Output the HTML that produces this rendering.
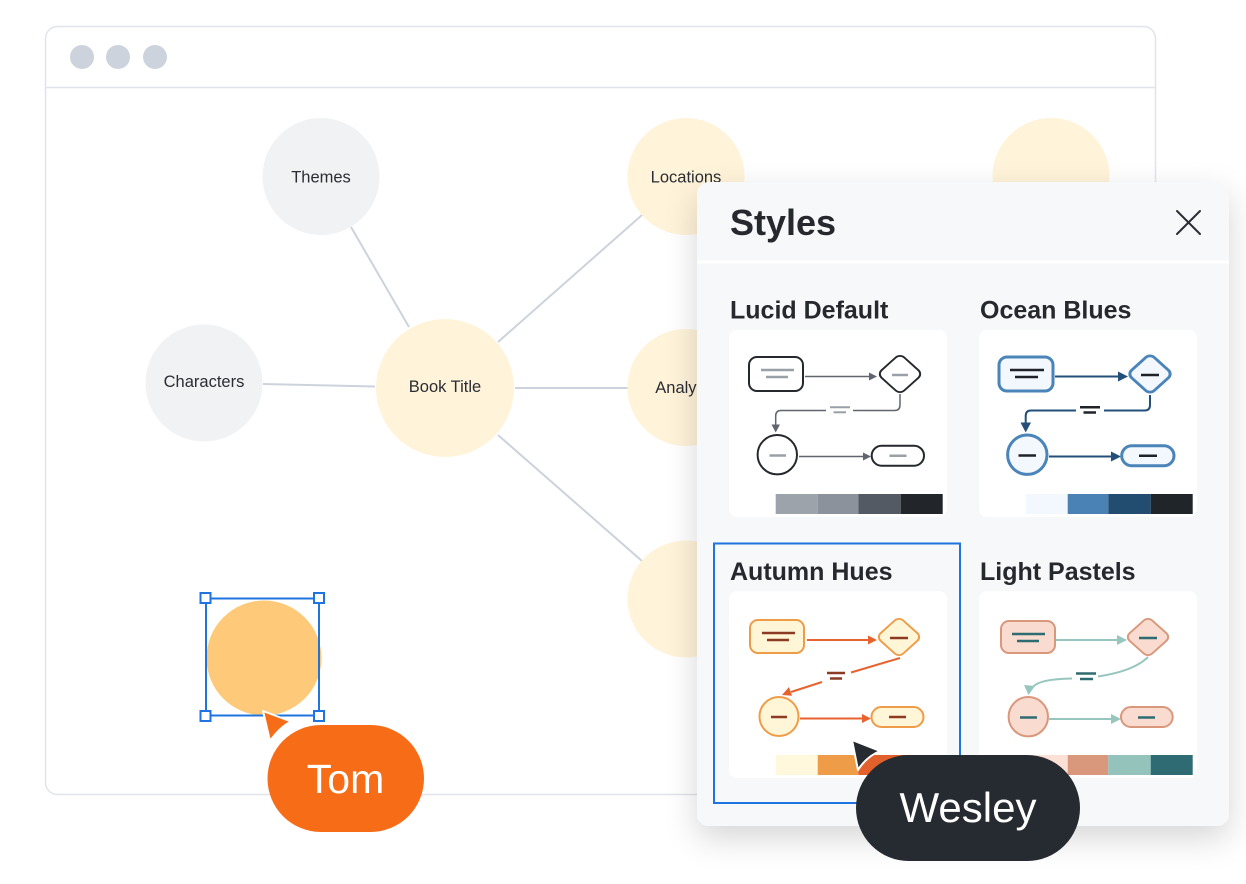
<!DOCTYPE html>
<html><head><meta charset="utf-8"><style>
html,body{margin:0;padding:0;background:#fff;}
body{width:1246px;height:884px;overflow:hidden;}
svg{display:block;}
text{font-family:"Liberation Sans",sans-serif;}
</style></head><body>
<svg width="1246" height="884" viewBox="0 0 1246 884" xmlns="http://www.w3.org/2000/svg">
<defs>
<filter id="sh" x="-20%" y="-20%" width="140%" height="140%">
<feDropShadow dx="0" dy="12" stdDeviation="16" flood-color="#000" flood-opacity="0.16"/>
</filter>
</defs>

<!-- window frame -->
<rect x="45.5" y="26.5" width="1110" height="768" rx="12" fill="#fff" stroke="#e1e4ea" stroke-width="1.5"/>
<line x1="46" y1="87.5" x2="1155" y2="87.5" stroke="#e1e4ea" stroke-width="1.5"/>
<circle cx="82" cy="57" r="12" fill="#cdd3dc"/>
<circle cx="118" cy="57" r="12" fill="#cdd3dc"/>
<circle cx="155" cy="57" r="12" fill="#cdd3dc"/>

<!-- mind map connectors -->
<g stroke="#cdd3dc" stroke-width="2" fill="none">
<line x1="351" y1="227" x2="409" y2="327"/>
<line x1="263" y1="384" x2="375" y2="386.5"/>
<line x1="498" y1="342" x2="642" y2="215"/>
<line x1="515" y1="388" x2="628" y2="388"/>
<line x1="498" y1="435" x2="642" y2="561"/>
</g>

<!-- nodes -->
<circle cx="321" cy="176.5" r="58.5" fill="#f1f2f4"/>
<circle cx="204" cy="383" r="58.5" fill="#f1f2f4"/>
<circle cx="445" cy="388" r="69" fill="#fff3d9"/>
<circle cx="686" cy="176.5" r="58.5" fill="#fff3d9"/>
<circle cx="686" cy="387.5" r="58.5" fill="#fff3d9"/>
<circle cx="686" cy="599" r="58.5" fill="#fff3d9"/>
<circle cx="1051" cy="176.5" r="58.5" fill="#fff3d9"/>

<g font-size="16.5" fill="#2a2d33" text-anchor="middle">
<text x="321" y="182.5">Themes</text>
<text x="204" y="387">Characters</text>
<text x="445" y="392">Book Title</text>
<text x="686" y="182.5">Locations</text>
<text x="686" y="393">Analysis</text>
</g>

<!-- selected circle -->
<circle cx="264" cy="658" r="57.5" fill="#fec978"/>
<rect x="206" y="598.5" width="113" height="117" fill="none" stroke="#1f74e0" stroke-width="2"/>
<g fill="#fff" stroke="#1f74e0" stroke-width="2">
<rect x="200.5" y="593" width="10" height="10"/>
<rect x="314" y="593" width="10" height="10"/>
<rect x="200.5" y="711" width="10" height="10"/>
<rect x="314" y="711" width="10" height="10"/>
</g>

<!-- Tom cursor + pill -->
<path d="M263 711 L291 721.5 Q280 727 270 741 Z" fill="#f76c16" stroke="#fff" stroke-width="2" stroke-linejoin="round"/>
<rect x="267.5" y="725" width="156.5" height="107" rx="53.5" fill="#f76c16"/>
<text x="345.5" y="793" font-size="41" fill="#fff" text-anchor="middle">Tom</text>

<!-- Styles panel -->
<rect x="697" y="182" width="532" height="644" rx="12" fill="#f7f8fa" filter="url(#sh)"/>
<text x="730" y="235" font-size="36" font-weight="bold" fill="#25282d">Styles</text>
<g stroke="#2a2d33" stroke-width="2" stroke-linecap="round">
<line x1="1177" y1="211" x2="1200" y2="234"/>
<line x1="1200" y1="211" x2="1177" y2="234"/>
</g>
<line x1="697" y1="262" x2="1229" y2="262" stroke="#ffffff" stroke-width="3"/>

<g font-size="25" font-weight="bold" fill="#25282d">
<text x="730" y="318.5">Lucid Default</text>
<text x="980" y="318.5">Ocean Blues</text>
<text x="730" y="580">Autumn Hues</text>
<text x="980" y="580">Light Pastels</text>
</g>

<!-- Lucid Default -->
<g transform="translate(729,330)">
<rect x="0" y="0" width="218" height="187" rx="8" fill="#fff"/>
<rect x="20" y="27" width="54" height="34" rx="8" fill="#fff" stroke="#25282d" stroke-width="2"/>
<line x1="32" y1="40" x2="65" y2="40" stroke="#9aa0a8" stroke-width="2.5"/>
<line x1="37" y1="47" x2="59" y2="47" stroke="#9aa0a8" stroke-width="2.5"/>
<line x1="76" y1="46.5" x2="141" y2="46.5" stroke="#60656e" stroke-width="1.5"/>
<path d="M148 46.5 L140 42.5 L140 50.5 Z" fill="#60656e"/>
<rect x="-16" y="-16" width="32" height="32" rx="6" fill="#fff" stroke="#25282d" stroke-width="2" transform="translate(171,44) scale(1,0.9) rotate(45)"/>
<line x1="163" y1="45" x2="179" y2="45" stroke="#9aa0a8" stroke-width="2.5"/>
<path d="M171 64 V75 Q171 80.5 165.5 80.5 H124 M97 80.5 H52 Q46.7 80.5 46.7 86 V95" fill="none" stroke="#60656e" stroke-width="1.5"/>
<path d="M46.7 102.5 L42.5 94.5 L51 94.5 Z" fill="#60656e"/>
<line x1="101" y1="77.3" x2="121" y2="77.3" stroke="#9aa0a8" stroke-width="2"/>
<line x1="104.5" y1="82.3" x2="117" y2="82.3" stroke="#9aa0a8" stroke-width="2"/>
<circle cx="48.3" cy="124.7" r="19.7" fill="#fff" stroke="#25282d" stroke-width="2"/>
<line x1="40.5" y1="125.5" x2="57" y2="125.5" stroke="#9aa0a8" stroke-width="2.5"/>
<line x1="70" y1="126.5" x2="135" y2="126.5" stroke="#60656e" stroke-width="1.5"/>
<path d="M142 126.5 L134 122.5 L134 130.5 Z" fill="#60656e"/>
<rect x="142.7" y="115.7" width="52.3" height="20" rx="10" fill="#fff" stroke="#25282d" stroke-width="2"/>
<line x1="160.5" y1="125.7" x2="177.5" y2="125.7" stroke="#9aa0a8" stroke-width="2.5"/>
<rect x="46.7" y="164" width="42" height="20" fill="#9ca3ab"/>
<rect x="88.7" y="164" width="40.6" height="20" fill="#8b929c"/>
<rect x="129.3" y="164" width="42.4" height="20" fill="#545a64"/>
<rect x="171.7" y="164" width="42" height="20" fill="#22262a"/>
</g>

<!-- Ocean Blues -->
<g transform="translate(979,330)">
<rect x="0" y="0" width="218" height="187" rx="8" fill="#fff"/>
<rect x="20" y="27" width="54" height="34" rx="8" fill="#f2f8fd" stroke="#4a84b8" stroke-width="3"/>
<line x1="31" y1="40" x2="65" y2="40" stroke="#1f2328" stroke-width="2.5"/>
<line x1="36" y1="47" x2="59" y2="47" stroke="#1f2328" stroke-width="2.5"/>
<line x1="76" y1="46.5" x2="140" y2="46.5" stroke="#234f78" stroke-width="2"/>
<path d="M149 46.5 L139 41.5 L139 51.5 Z" fill="#234f78"/>
<rect x="-16" y="-16" width="32" height="32" rx="6" fill="#f2f8fd" stroke="#4a84b8" stroke-width="3" transform="translate(171,44) scale(1,0.9) rotate(45)"/>
<line x1="162" y1="45" x2="180" y2="45" stroke="#1f2328" stroke-width="2.5"/>
<path d="M171 65 V75 Q171 80.5 165.5 80.5 H125 M97 80.5 H52 Q46.7 80.5 46.7 86 V93" fill="none" stroke="#234f78" stroke-width="2"/>
<path d="M46.7 102.5 L41.5 92.5 L52 92.5 Z" fill="#234f78"/>
<line x1="101" y1="77.3" x2="121" y2="77.3" stroke="#1f2328" stroke-width="2.5"/>
<line x1="104.5" y1="82.5" x2="117" y2="82.5" stroke="#1f2328" stroke-width="2.5"/>
<circle cx="48.3" cy="124.7" r="19.7" fill="#f2f8fd" stroke="#4a84b8" stroke-width="3"/>
<line x1="39.5" y1="125.5" x2="57" y2="125.5" stroke="#1f2328" stroke-width="2.5"/>
<line x1="70" y1="126.5" x2="132" y2="126.5" stroke="#234f78" stroke-width="2"/>
<path d="M142 126.5 L132 121.5 L132 131.5 Z" fill="#234f78"/>
<rect x="142.7" y="115.7" width="52.3" height="20" rx="10" fill="#f2f8fd" stroke="#4a84b8" stroke-width="3"/>
<line x1="160" y1="125.7" x2="178" y2="125.7" stroke="#1f2328" stroke-width="2.5"/>
<rect x="46.7" y="164" width="42" height="20" fill="#f2f8fd"/>
<rect x="88.7" y="164" width="40.6" height="20" fill="#4a82b5"/>
<rect x="129.3" y="164" width="42.4" height="20" fill="#234c71"/>
<rect x="171.7" y="164" width="42" height="20" fill="#20252a"/>
</g>

<!-- Autumn Hues -->
<g transform="translate(729,591)">
<rect x="0" y="0" width="218" height="187" rx="8" fill="#fff"/>
<rect x="21" y="29" width="54" height="33" rx="8" fill="#fff6d8" stroke="#ef9c48" stroke-width="2"/>
<line x1="33" y1="42" x2="66" y2="42" stroke="#8c3b22" stroke-width="2.5"/>
<line x1="38" y1="49" x2="60" y2="49" stroke="#8c3b22" stroke-width="2.5"/>
<line x1="78" y1="49" x2="140" y2="49" stroke="#e8622d" stroke-width="2"/>
<path d="M148 49 L139 44.5 L139 53.5 Z" fill="#e8622d"/>
<rect x="-16" y="-16" width="32" height="32" rx="6" fill="#fff6d8" stroke="#ef9c48" stroke-width="2" transform="translate(170,46) scale(1,0.9) rotate(45)"/>
<line x1="161" y1="47" x2="179" y2="47" stroke="#8c3b22" stroke-width="2.5"/>
<path d="M171 67 L122 81.5 M93 91 L62 101" fill="none" stroke="#e8622d" stroke-width="2"/>
<path d="M53 104 L63 104.8 L60 96 Z" fill="#e8622d"/>
<line x1="98" y1="82" x2="116" y2="82" stroke="#8c3b22" stroke-width="2.5"/>
<line x1="101" y1="87.5" x2="113" y2="87.5" stroke="#8c3b22" stroke-width="2.5"/>
<circle cx="50" cy="125.5" r="19.5" fill="#fff6d8" stroke="#ef9c48" stroke-width="2"/>
<line x1="42" y1="126" x2="58" y2="126" stroke="#8c3b22" stroke-width="2.5"/>
<line x1="71" y1="127.5" x2="134" y2="127.5" stroke="#e8622d" stroke-width="2"/>
<path d="M142 127.5 L133 123 L133 132 Z" fill="#e8622d"/>
<rect x="142.5" y="116" width="52" height="20" rx="10" fill="#fff6d8" stroke="#ef9c48" stroke-width="2"/>
<line x1="160" y1="126" x2="177" y2="126" stroke="#8c3b22" stroke-width="2.5"/>
<rect x="46.7" y="164" width="42" height="20" fill="#fff8dc"/>
<rect x="88.7" y="164" width="40.6" height="20" fill="#ef9c48"/>
<rect x="129.3" y="164" width="42.4" height="20" fill="#e1602b"/>
<rect x="171.7" y="164" width="42" height="20" fill="#b8421f"/>
</g>

<!-- Light Pastels -->
<g transform="translate(979,591)">
<rect x="0" y="0" width="218" height="187" rx="8" fill="#fff"/>
<rect x="22" y="30" width="54" height="32" rx="8" fill="#f9dbd0" stroke="#d9977c" stroke-width="2"/>
<line x1="33" y1="43" x2="66" y2="43" stroke="#2e6c72" stroke-width="2.5"/>
<line x1="38" y1="50" x2="60" y2="50" stroke="#2e6c72" stroke-width="2.5"/>
<line x1="77" y1="49" x2="139" y2="49" stroke="#97c6bf" stroke-width="2"/>
<path d="M148 49 L138 44 L138 54 Z" fill="#97c6bf"/>
<rect x="-16" y="-16" width="32" height="32" rx="6" fill="#f9dbd0" stroke="#d9977c" stroke-width="2" transform="translate(169,46) scale(1,0.9) rotate(45)"/>
<line x1="160" y1="47" x2="178" y2="47" stroke="#2e6c72" stroke-width="2.5"/>
<path d="M169 66 Q155 80 119 85.5 M93 87.5 Q60 88 54 96" fill="none" stroke="#97c6bf" stroke-width="2"/>
<path d="M49.5 104 L45 94 L56 95 Z" fill="#97c6bf"/>
<line x1="97" y1="82.5" x2="117" y2="82.5" stroke="#2e6c72" stroke-width="2.5"/>
<line x1="101" y1="88" x2="114" y2="88" stroke="#2e6c72" stroke-width="2.5"/>
<circle cx="49.3" cy="125.7" r="19.7" fill="#f9dbd0" stroke="#d9977c" stroke-width="2"/>
<line x1="41" y1="126.5" x2="58" y2="126.5" stroke="#2e6c72" stroke-width="2.5"/>
<line x1="70" y1="128" x2="132" y2="128" stroke="#97c6bf" stroke-width="2"/>
<path d="M142 128 L132 123 L132 133 Z" fill="#97c6bf"/>
<rect x="142" y="116" width="51.7" height="20" rx="10" fill="#f9dbd0" stroke="#d9977c" stroke-width="2"/>
<line x1="159" y1="126.5" x2="176" y2="126.5" stroke="#2e6c72" stroke-width="2.5"/>
<rect x="46.7" y="164" width="42" height="20" fill="#fce0d5"/>
<rect x="88.7" y="164" width="40.6" height="20" fill="#d9977c"/>
<rect x="129.3" y="164" width="42.4" height="20" fill="#94c3bc"/>
<rect x="171.7" y="164" width="42" height="20" fill="#2f6b72"/>
</g>

<!-- selection around Autumn Hues -->
<rect x="714" y="543.5" width="246" height="259.5" fill="none" stroke="#1f74e0" stroke-width="2"/>

<!-- Wesley cursor + pill -->
<path d="M852 740 L880 751 Q866 757 858 770 Z" fill="#262a31" stroke="#fff" stroke-width="2" stroke-linejoin="round"/>
<rect x="856" y="755" width="224" height="106" rx="53" fill="#262a31"/>
<text x="968" y="822" font-size="42" fill="#fff" text-anchor="middle">Wesley</text>
</svg>
</body></html>
